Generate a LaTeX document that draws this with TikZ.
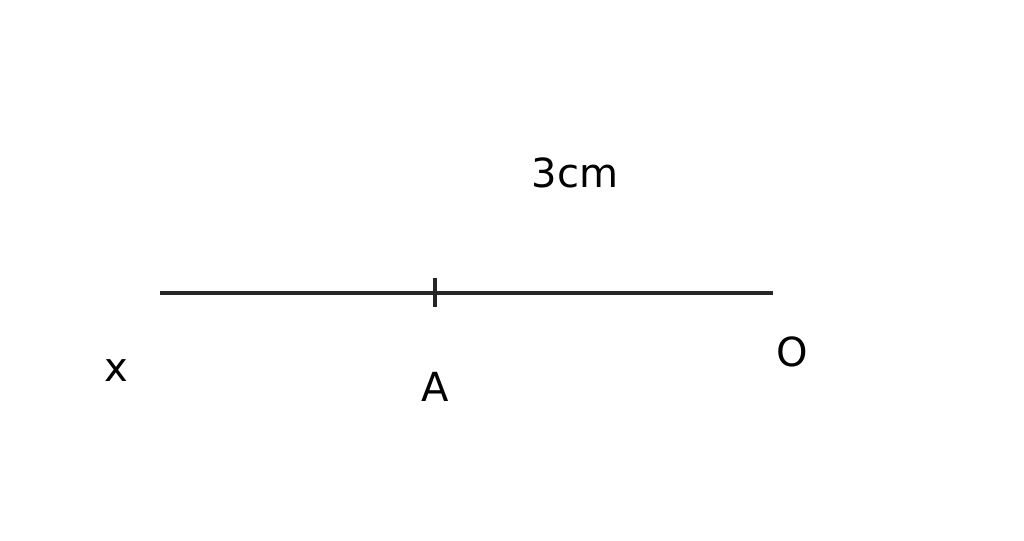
\documentclass[tikz,border=0pt]{standalone}
\usepackage{fontspec}
\setmainfont{DejaVu Sans}
\usetikzlibrary{positioning}

\begin{document}
\begin{tikzpicture}[line width=0.9pt,
                    lbl/.style={anchor=base,inner sep=0pt,font=\fontsize{11.4}{14}\selectfont}]
        \useasboundingbox (0,0) rectangle (10.24,5.41);

        \coordinate (x) at (1.60,2.48);
        \coordinate (o) at (7.73,2.48);
        \coordinate (a) at (4.35,2.48);

        \draw[black!85] (x) -- (o);
        \draw[black!85] ([yshift=0.15cm]a) -- ([yshift=-0.14cm]a);

        \node[lbl] (lx) at (1.16,1.59) {x};
        \node[lbl] (la) at (4.35,1.39) {A};
        \node[lbl] (lo) at (7.92,1.74) {O};
        \node[lbl] (len) at (5.75,3.53) {3cm};
\end{tikzpicture}
\end{document}
